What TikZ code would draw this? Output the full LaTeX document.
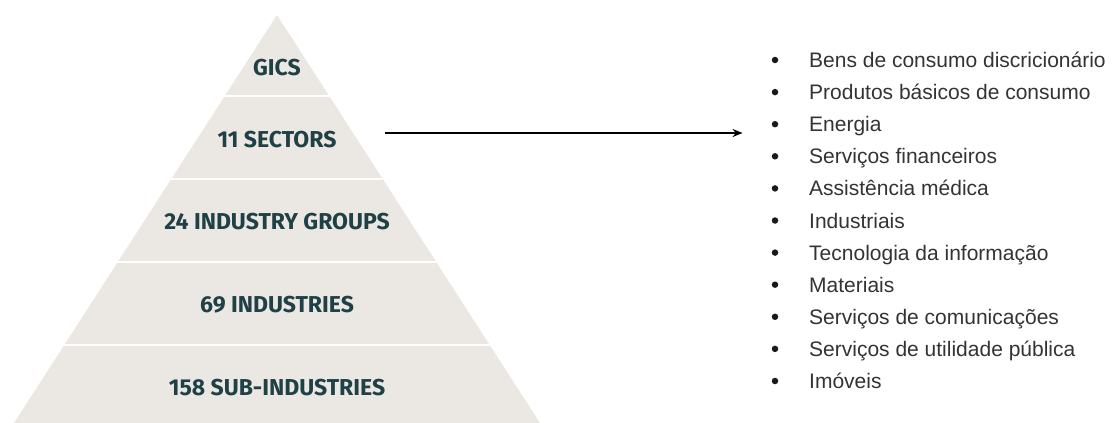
\documentclass[tikz,border=0pt]{standalone}
\usepackage{fontspec}
\setmainfont{Liberation Sans}
\newfontfamily\pyrfont[FakeStretch=1.0]{Fira Sans}
\usetikzlibrary{arrows.meta}
\definecolor{pyrfill}{HTML}{EBE8E4}
\definecolor{pyrtext}{HTML}{1F4045}
\definecolor{listtext}{HTML}{333333}
\begin{document}
\begin{tikzpicture}[x=1pt,y=-1pt,
  lvl/.style={font=\pyrfont\bfseries\fontsize{23}{23}\selectfont, text=pyrtext, inner sep=0pt, anchor=center},
  bul/.style={circle, fill=black!90, inner sep=0pt, minimum size=6.5pt},
  item/.style={font=\fontsize{21}{21}\selectfont, text=listtext, inner sep=0pt, anchor=base west},
  arrowline/.style={line width=2.2pt, -{Stealth[length=10pt,width=8pt]}}]
\useasboundingbox (0,0) rectangle (1117,423);
\coordinate (apex) at (277,15);
\coordinate (bl) at (14,423);
\coordinate (br) at (540,423);
\fill[pyrfill] (apex) -- (br) -- (bl) -- cycle;
\begin{scope}
  \clip (apex) -- (br) -- (bl) -- cycle;
  \foreach \y in {96,179,262,345} \draw[white, line width=2pt] (0,\y) -- (600,\y);
\end{scope}
\node[lvl] (gics) at (277,68) {GICS};
\node[lvl] (sectors) at (277,140) {11 SECTORS};
\node[lvl] (groups) at (277,222) {24 INDUSTRY GROUPS};
\node[lvl] (industries) at (277,305) {69 INDUSTRIES};
\node[lvl] (subind) at (277,388) {158 SUB-INDUSTRIES};
\foreach \t [count=\i] in {Bens de consumo discricionário, Produtos básicos de consumo, Energia, Serviços financeiros, Assistência médica, Industriais, Tecnologia da informação, Materiais, Serviços de comunicações, Serviços de utilidade pública, Imóveis} {
  \pgfmathsetmacro{\yy}{60+32.1*(\i-1)}
  \node[bul] (b\i) at (775,\yy) {};
  \node[item] (t\i) at (809,\yy+7.5) {\t};
}
\coordinate (a0) at (385,133);
\draw[arrowline, shorten >=29pt] (a0) -- (a0 -| b3.west);
\end{tikzpicture}
\end{document}
